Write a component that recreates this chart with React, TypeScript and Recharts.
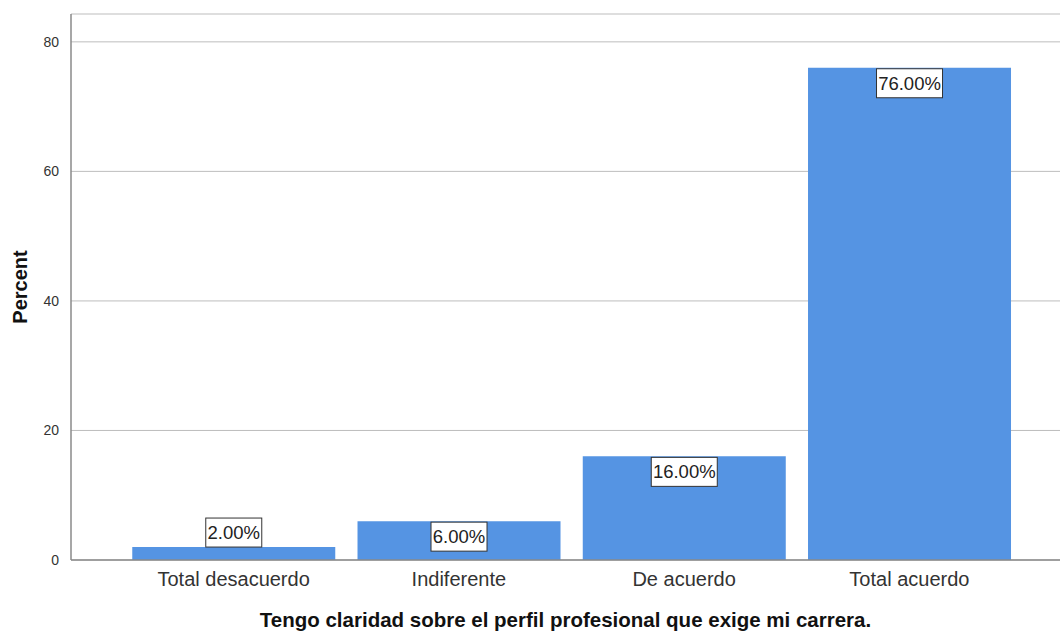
import { BarChart, Bar, XAxis, YAxis, CartesianGrid, LabelList } from "recharts";

const categories = ["Total desacuerdo", "Indiferente", "De acuerdo", "Total acuerdo"];
const percents = [2, 6, 16, 76];
const yTicks = [0, 20, 40, 60, 80];

const data = categories.map((name, i) => ({ name, value: percents[i] }));

const FONT = "Arial, 'Liberation Sans', sans-serif";

function BoxLabel(props: any) {
  const { x, y, width, height, value } = props;
  const text = `${Number(value).toFixed(2)}%`;
  const boxW = text.length * 10 + 6;
  const boxH = 29;
  const cx = x + width / 2;
  // put the box above the bar when the bar is too short
  const top = height < boxH + 2 ? y - boxH : y + 1;
  return (
    <g>
      <rect
        x={cx - boxW / 2}
        y={top}
        width={boxW}
        height={boxH}
        fill="#fff"
        stroke="#333"
        strokeWidth={1}
      />
      <text
        x={cx}
        y={top + boxH / 2 + 6.5}
        textAnchor="middle"
        fontSize={18.5}
        fontFamily={FONT}
        fill="#222"
      >
        {text}
      </text>
    </g>
  );
}

export default function App() {
  return (
    <div style={{ position: "absolute", left: 0, top: 0, background: "#fff" }}>
      <BarChart
        width={1060}
        height={632}
        data={data}
        margin={{ top: 14, right: 0, bottom: 0, left: 0 }}
        barCategoryGap="5%"
      >
        <CartesianGrid vertical={false} stroke="#bdbdbd" strokeWidth={1} />
        <XAxis
          dataKey="name"
          height={72}
          padding={{ left: 50, right: 38 }}
          tickLine={false}
          axisLine={{ stroke: "#8a8a8a", strokeWidth: 1.5 }}
          tick={{ fontSize: 20, fill: "#333", fontFamily: FONT }}
          tickMargin={6}
          interval={0}
          label={{
            value: "Tengo claridad sobre el perfil profesional que exige mi carrera.",
            position: "insideBottom",
            offset: 5,
            style: { fontSize: 20.5, fontWeight: "bold", fill: "#111", fontFamily: FONT },
          }}
        />
        <YAxis
          width={71}
          domain={[0, 84.3]}
          ticks={yTicks}
          tickLine={false}
          axisLine={{ stroke: "#8a8a8a", strokeWidth: 1.5 }}
          tick={{ fontSize: 14, fill: "#333", fontFamily: FONT }}
          tickMargin={6}
          label={{
            value: "Percent",
            angle: -90,
            position: "insideLeft",
            offset: 20,
            style: { fontSize: 20, fontWeight: "bold", fill: "#111", fontFamily: FONT, textAnchor: "middle" },
          }}
        />
        <Bar dataKey="value" fill="#5594e3" isAnimationActive={false}>
          <LabelList dataKey="value" content={<BoxLabel />} />
        </Bar>
      </BarChart>
    </div>
  );
}
